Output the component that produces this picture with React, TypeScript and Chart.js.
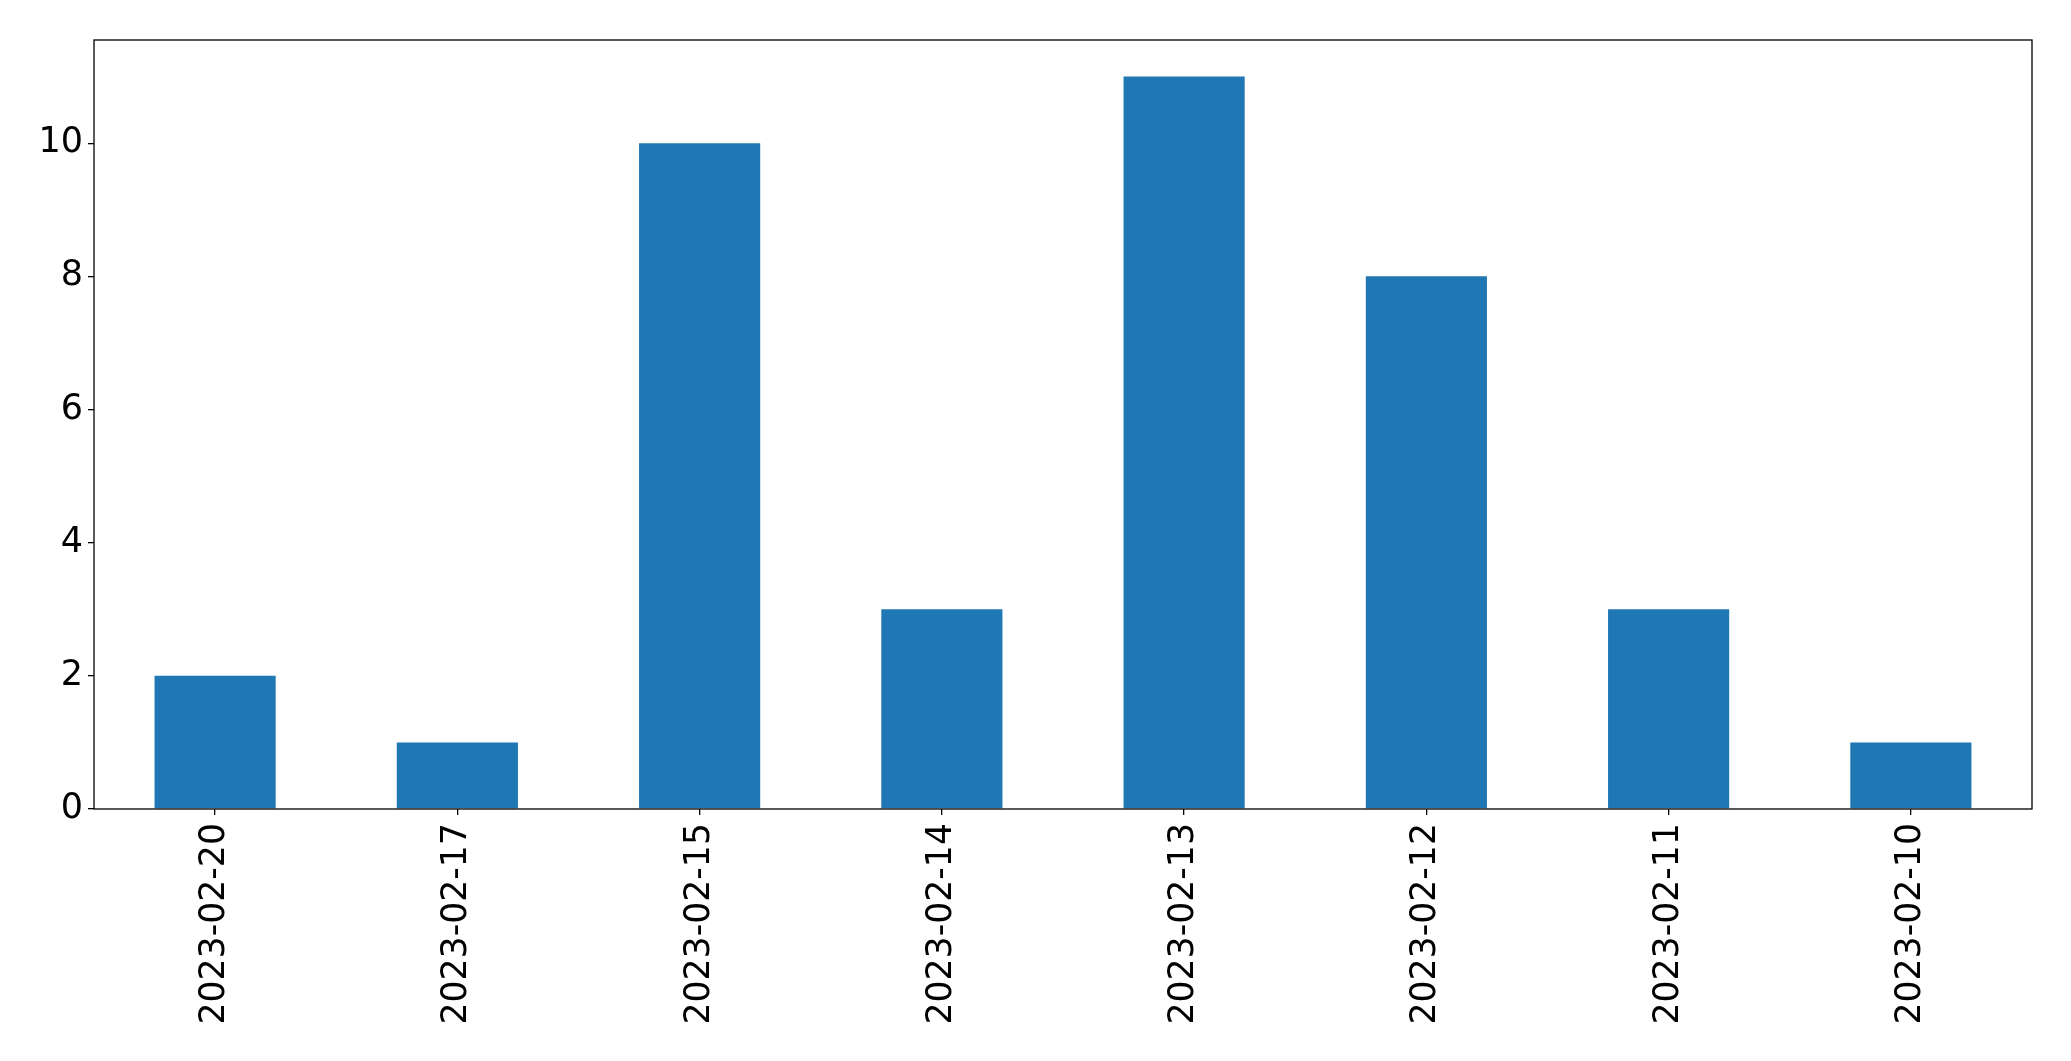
import React, { useEffect, useRef } from "react";
import { Chart, registerables } from "chart.js";

Chart.register(...registerables);

const categories = [
  "2023-02-20",
  "2023-02-17",
  "2023-02-15",
  "2023-02-14",
  "2023-02-13",
  "2023-02-12",
  "2023-02-11",
  "2023-02-10",
];
const counts = [2, 1, 10, 3, 11, 8, 3, 1];
const yTickValues = [0, 2, 4, 6, 8, 10];
const yMax = 11.55;

const framePlugin = {
  id: "frame",
  afterDatasetsDraw(chart: any) {
    const { ctx, chartArea } = chart;
    ctx.save();
    ctx.strokeStyle = "#000";
    ctx.lineWidth = 1.3;
    ctx.strokeRect(chartArea.left, chartArea.top, chartArea.right - chartArea.left, chartArea.bottom - chartArea.top);
    ctx.restore();
  },
};

export default function App() {
  const ref = useRef<HTMLCanvasElement | null>(null);
  useEffect(() => {
    document.body.style.margin = "0";
    const chart = new Chart(ref.current as HTMLCanvasElement, {
      type: "bar",
      data: {
        labels: categories,
        datasets: [
          {
            data: counts,
            backgroundColor: "#1f77b4",
            borderWidth: 0,
            categoryPercentage: 0.5,
            barPercentage: 1,
          },
        ],
      },
      plugins: [framePlugin],
      options: {
        animation: false,
        responsive: false,
        layout: { padding: { top: 40, right: 39, left: 0, bottom: 0 } },
        plugins: { legend: { display: false }, tooltip: { enabled: false } },
        scales: {
          x: {
            type: "category",
            offset: true,
            grid: {
              display: true,
              offset: false,
              drawOnChartArea: false,
              drawTicks: true,
              tickLength: 6,
              color: "#000",
              lineWidth: 1.3,
            },
            border: { display: false },
            ticks: {
              color: "#000",
              font: { family: "DejaVu Sans", size: 34.7 },
              maxRotation: 90,
              minRotation: 90,
              padding: 8,
              autoSkip: false,
            },
            afterFit: (scale: any) => {
              scale.height = 252;
            },
          },
          y: {
            type: "linear",
            min: 0,
            max: yMax,
            grid: {
              display: true,
              drawOnChartArea: false,
              drawTicks: true,
              tickLength: 6,
              color: "#000",
              lineWidth: 1.3,
            },
            border: { display: false },
            ticks: {
              color: "#000",
              font: { family: "DejaVu Sans", size: 35 },
              stepSize: 2,
              padding: 5,
            },
            afterBuildTicks: (scale: any) => {
              scale.ticks = yTickValues.map((v) => ({ value: v }));
            },
            afterFit: (scale: any) => {
              scale.width = 94;
            },
          },
        },
      },
    } as any);
    return () => chart.destroy();
  }, []);
  return (
    <div style={{ position: "absolute", left: 0, top: 0, width: 2071, height: 1061, background: "#fff" }}>
      <canvas ref={ref} width={2071} height={1061} style={{ width: 2071, height: 1061 }} />
    </div>
  );
}
